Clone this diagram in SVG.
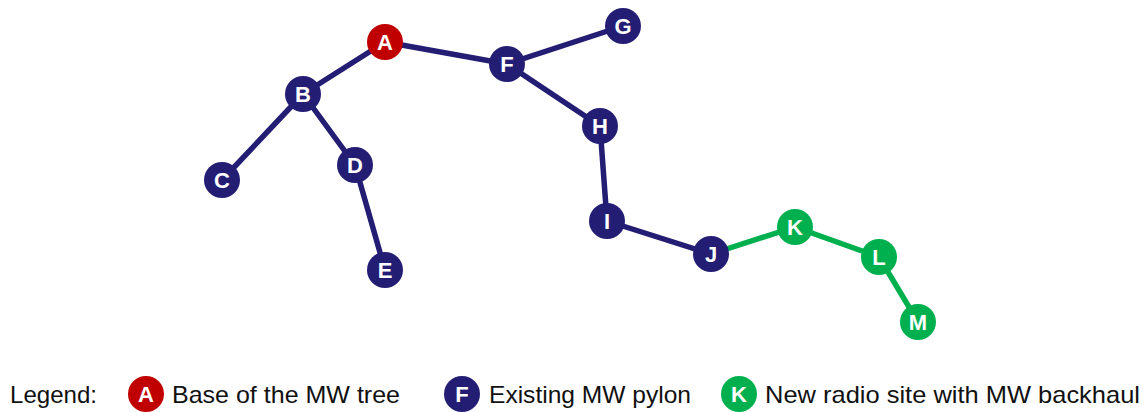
<svg xmlns="http://www.w3.org/2000/svg" width="1145" height="412" viewBox="0 0 1145 412">
  <style>
    .navy { fill: #231D73; }
    .red { fill: #C00000; }
    .green { fill: #00B04F; }
    .lbl { fill: #FFFFFF; font-family: "Liberation Sans", Arial, sans-serif; font-weight: bold; font-size: 22px; text-anchor: middle; }
    .edge { stroke-width: 5.5; stroke-linecap: round; fill: none; }
    .en { stroke: #231D73; }
    .eg { stroke: #00B04F; }
    .legend { fill: #111111; font-family: "Liberation Sans", Arial, sans-serif; font-size: 24px; }
  </style>

  <!-- links between sites -->
  <g id="connectors">
    <line class="edge en" x1="385" y1="42" x2="303" y2="94"/>
    <line class="edge en" x1="385" y1="42" x2="507" y2="64"/>
    <line class="edge en" x1="507" y1="64" x2="623" y2="26"/>
    <line class="edge en" x1="507" y1="64" x2="600" y2="126"/>
    <line class="edge en" x1="303" y1="94" x2="222" y2="180"/>
    <line class="edge en" x1="303" y1="94" x2="355" y2="165"/>
    <line class="edge en" x1="355" y1="165" x2="385" y2="270"/>
    <line class="edge en" x1="600" y1="126" x2="607" y2="221"/>
    <line class="edge en" x1="607" y1="221" x2="711" y2="254"/>
    <line class="edge eg" x1="711" y1="254" x2="795" y2="227"/>
    <line class="edge eg" x1="795" y1="227" x2="879" y2="257"/>
    <line class="edge eg" x1="879" y1="257" x2="918" y2="322"/>
  </g>

  <g id="node-A"><circle class="red" cx="385" cy="42" r="18"/><text class="lbl" x="385" y="50">A</text></g>
  <g id="node-B"><circle class="navy" cx="303" cy="94" r="18"/><text class="lbl" x="303" y="102">B</text></g>
  <g id="node-C"><circle class="navy" cx="222" cy="180" r="18"/><text class="lbl" x="222" y="188">C</text></g>
  <g id="node-D"><circle class="navy" cx="355" cy="165" r="18"/><text class="lbl" x="355" y="173">D</text></g>
  <g id="node-E"><circle class="navy" cx="385" cy="270" r="18"/><text class="lbl" x="385" y="278">E</text></g>
  <g id="node-F"><circle class="navy" cx="507" cy="64" r="18"/><text class="lbl" x="507" y="72">F</text></g>
  <g id="node-G"><circle class="navy" cx="623" cy="26" r="18"/><text class="lbl" x="623" y="34">G</text></g>
  <g id="node-H"><circle class="navy" cx="600" cy="126" r="18"/><text class="lbl" x="600" y="134">H</text></g>
  <g id="node-I"><circle class="navy" cx="607" cy="221" r="18"/><text class="lbl" x="607" y="229">I</text></g>
  <g id="node-J"><circle class="navy" cx="711" cy="254" r="18"/><text class="lbl" x="711" y="262">J</text></g>
  <g id="node-K"><circle class="green" cx="795" cy="227" r="18"/><text class="lbl" x="795" y="235">K</text></g>
  <g id="node-L"><circle class="green" cx="879" cy="257" r="18"/><text class="lbl" x="879" y="265">L</text></g>
  <g id="node-M"><circle class="green" cx="918" cy="322" r="18"/><text class="lbl" x="918" y="330">M</text></g>

  <!-- key -->
  <g id="legend">
    <text class="legend" x="10" y="403" textLength="87" lengthAdjust="spacingAndGlyphs">Legend:</text>
    <circle class="red" cx="146" cy="394" r="18"/><text class="lbl" x="146" y="402">A</text>
    <text class="legend" x="172" y="403" textLength="228" lengthAdjust="spacingAndGlyphs">Base of the MW tree</text>
    <circle class="navy" cx="462" cy="394" r="18"/><text class="lbl" x="462" y="402">F</text>
    <text class="legend" x="489" y="403" textLength="202" lengthAdjust="spacingAndGlyphs">Existing MW pylon</text>
    <circle class="green" cx="739" cy="394" r="18"/><text class="lbl" x="739" y="402">K</text>
    <text class="legend" x="765" y="403" textLength="375" lengthAdjust="spacingAndGlyphs">New radio site with MW backhaul</text>
  </g>
</svg>
